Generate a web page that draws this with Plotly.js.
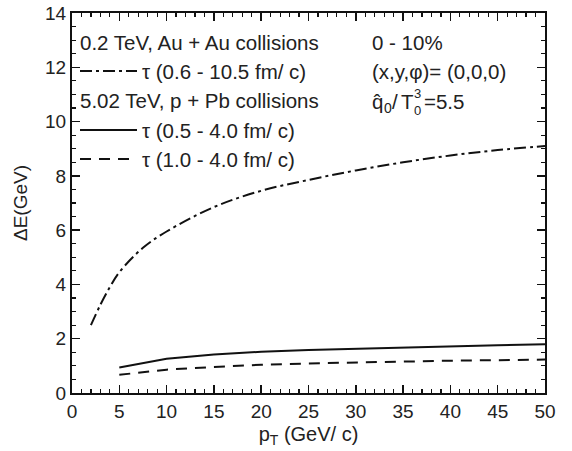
<!DOCTYPE html>
<html><head><meta charset="utf-8">
<script src="https://cdn.plot.ly/plotly-3.0.1.min.js"></script>
<style>html,body{margin:0;padding:0;background:#fff}#plot{width:572px;height:451px}</style>
</head><body><div id="plot"></div>
<script>
// Data
const auX = [2, 3, 4, 5, 7.5, 10, 15, 20, 25, 30, 35, 40, 45, 50];
const auY = [2.5, 3.25, 3.9, 4.45, 5.35, 5.95, 6.85, 7.45, 7.85, 8.2, 8.5, 8.75, 8.95, 9.1];
const pbX = [5, 10, 15, 20, 25, 30, 35, 40, 45, 50];
const pbSolidY = [0.94, 1.26, 1.42, 1.52, 1.58, 1.63, 1.68, 1.72, 1.76, 1.80];
const pbDashY = [0.67, 0.86, 0.96, 1.04, 1.09, 1.13, 1.16, 1.19, 1.21, 1.23];
const xTicks = [0, 5, 10, 15, 20, 25, 30, 35, 40, 45, 50];
const yTicks = [0, 2, 4, 6, 8, 10, 12, 14];

const FONT = 'Liberation Sans, Arial, sans-serif';
const TXT = '#222';
const traces = [
  {x: auX, y: auY, mode: 'lines', line: {color: '#111', width: 2, dash: '12px,4px,3px,4px', shape: 'spline'}, showlegend: false},
  {x: pbX, y: pbSolidY, mode: 'lines', line: {color: '#111', width: 2}, showlegend: false},
  {x: pbX, y: pbDashY, mode: 'lines', line: {color: '#111', width: 2, dash: '11px,8px'}, showlegend: false}
];

const axisCommon = {
  showgrid: false, zeroline: false, showline: true, linecolor: '#111', linewidth: 2,
  mirror: 'allticks', ticks: 'inside', ticklen: 8, tickwidth: 1.5, tickcolor: '#111',
  tickfont: {family: FONT, size: 19, color: TXT}
};
const layout = {
  width: 572, height: 451,
  margin: {l: 72, r: 27, t: 13, b: 58},
  paper_bgcolor: '#fff', plot_bgcolor: '#fff',
  font: {family: FONT, color: TXT},
  xaxis: Object.assign({}, axisCommon, {
    range: [0, 50], tickvals: xTicks, ticktext: xTicks.map(String),
    minor: {dtick: 1, tick0: 0, ticks: 'inside', ticklen: 4, tickwidth: 1.2, tickcolor: '#111'},
    title: {text: 'p<sub>T</sub> (GeV/ c)', font: {family: FONT, size: 20, color: TXT}, standoff: 6}
  }),
  yaxis: Object.assign({}, axisCommon, {
    range: [0, 14], tickvals: yTicks, ticktext: yTicks.map(String),
    minor: {dtick: 0.5, tick0: 0, ticks: 'inside', ticklen: 4, tickwidth: 1.2, tickcolor: '#111'},
    title: {text: 'ΔE(GeV)', font: {family: FONT, size: 19, color: TXT}, standoff: 12}
  }),
  shapes: [],
  annotations: []
};
// plot area: x 72..545 (473px), y 13..393 (380px)
function px(x) { return (x - 72) / 473; }
function py(y) { return (393 - y) / 380; }
function ann(text, x, y, size) {
  layout.annotations.push({text: text, xref: 'paper', yref: 'paper', x: px(x), y: py(y),
    xanchor: 'left', yanchor: 'middle', showarrow: false, borderpad: 0,
    font: {family: FONT, size: size || 20.5, color: TXT}});
}
function sample(y, dash) {
  layout.shapes.push({type: 'line', xref: 'paper', yref: 'paper', x0: px(80), x1: px(137),
    y0: py(y), y1: py(y), line: {color: '#111', width: 2, dash: dash}});
}
ann('0.2 TeV, Au + Au collisions', 79, 42);
ann('τ (0.6 - 10.5 fm/ c)', 141, 71);
ann('5.02 TeV, p + Pb collisions', 79, 100);
ann('τ (0.5 - 4.0 fm/ c)', 141, 130);
ann('τ (1.0 - 4.0 fm/ c)', 141, 159);
sample(71, '12px,4px,3px,4px');
sample(130, 'solid');
sample(159, '11px,8px');
ann('0 - 10%', 371, 42);
ann('(x,y,φ)= (0,0,0)', 371, 71);
ann('q\u0302', 371, 101);
ann('0', 383, 108, 14);
ann('/', 391, 101);
ann('T', 400, 101);
ann('3', 413, 93, 13);
ann('0', 413, 110, 13);
ann('=5.5', 423, 101);

Plotly.newPlot('plot', traces, layout, {displayModeBar: false, staticPlot: true});
</script></body></html>
